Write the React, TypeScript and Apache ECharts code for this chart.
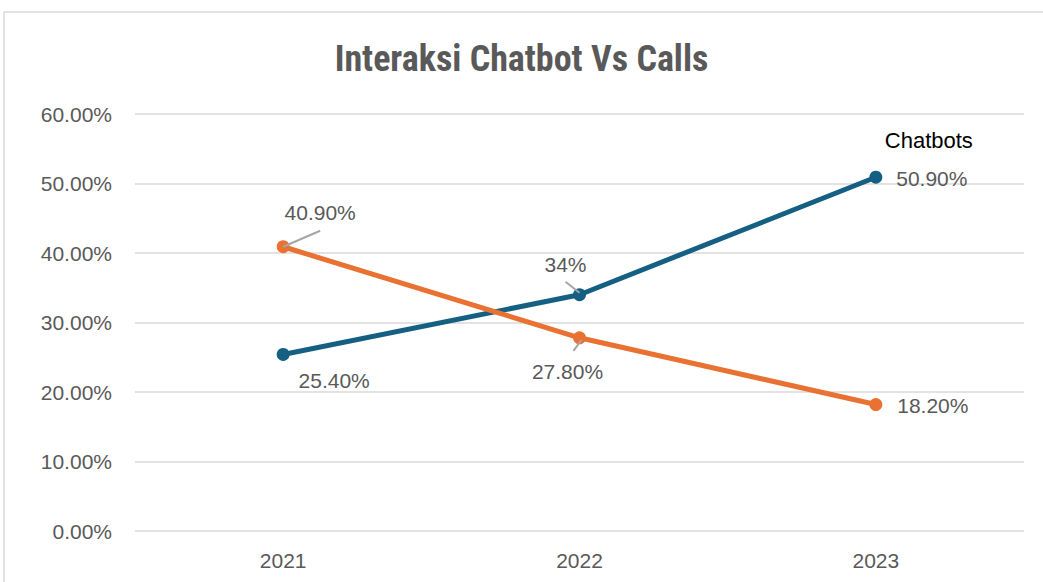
import React, { useEffect, useRef } from 'react';
import * as echarts from 'echarts';

const years = ['2021', '2022', '2023'];
const chatbotName = 'Chatbots';
const callsName = 'Calls';
const chatbots = [25.4, 34, 50.9];
const calls = [40.9, 27.8, 18.2];
const yMin = 0;
const yMax = 60;
const yStep = 10;
const titleText = 'Interaksi Chatbot Vs Calls';

const BLUE = '#156082';
const ORANGE = '#E97132';
const GREY = '#595959';
const FONT = '"Liberation Sans", Arial, sans-serif';
const FS = 21;

const fmt = (v: number) => (Number.isInteger(v) ? `${v}%` : `${v.toFixed(2)}%`);

// label offsets (style only)
const chatbotOffsets = [[51, 26], [-14, -30], [56, -18]];
const callsOffsets = [[37, -34], [-12, 34], [57, 1]];
// leader lines: [seriesIndex, dataIndex, from, to]
const leaders: [number, number, number[], number[]][] = [
  [1, 0, [0, 0], [37, -16]],
  [0, 1, [0, -2], [-14, -13]],
  [1, 1, [2, 2], [-6, 13]],
];

export default function App() {
  const ref = useRef<HTMLDivElement>(null);
  useEffect(() => {
    if (!ref.current) return;
    const chart = echarts.init(ref.current, null, { renderer: 'svg' });
    const labelBase = {
      show: true,
      position: 'inside',
      color: GREY,
      fontSize: FS,
      fontFamily: FONT,
      formatter: (p: any) => fmt(p.value),
    };
    chart.setOption({
      animation: false,
      backgroundColor: '#ffffff',
      title: {
        text: titleText,
        left: 'center',
        top: 36,
        textStyle: {
          color: GREY,
          fontSize: 36,
          fontWeight: 'bold',
          fontFamily: '"Liberation Sans Narrow", "Roboto Condensed", Arial, sans-serif',
        },
      },
      grid: { left: 135, right: 19, top: 114, bottom: 51 },
      xAxis: {
        type: 'category',
        data: years,
        boundaryGap: true,
        axisLine: { show: false },
        axisTick: { show: false },
        axisLabel: { color: GREY, fontSize: FS, fontFamily: FONT, margin: 19 },
      },
      yAxis: {
        type: 'value',
        min: yMin,
        max: yMax,
        interval: yStep,
        axisLine: { show: false },
        axisTick: { show: false },
        axisLabel: {
          color: GREY,
          fontSize: FS,
          fontFamily: FONT,
          margin: 23,
          formatter: (v: number) => `${v.toFixed(2)}%`,
        },
        splitLine: { lineStyle: { color: '#d9d9d9', width: 1.5 } },
      },
      series: [
        {
          name: chatbotName,
          type: 'line',
          symbol: 'circle',
          symbolSize: 13,
          lineStyle: { color: BLUE, width: 5 },
          itemStyle: { color: BLUE },
          data: chatbots.map((v, i) => {
            const item: any = {
              value: v,
              label: { ...labelBase, offset: chatbotOffsets[i] },
            };
            if (i === chatbots.length - 1) {
              item.label = {
                ...labelBase,
                offset: chatbotOffsets[i],
                formatter: (p: any) => `{n|${p.seriesName}}\n{v|${fmt(p.value)}}`,
                rich: {
                  n: { color: '#000000', fontSize: 22, fontFamily: FONT, lineHeight: 38, padding: [0, 6, 0, 0] },
                  v: { color: GREY, fontSize: FS, fontFamily: FONT, lineHeight: 38 },
                },
              };
            }
            return item;
          }),
        },
        {
          name: callsName,
          type: 'line',
          symbol: 'circle',
          symbolSize: 13,
          lineStyle: { color: ORANGE, width: 5 },
          itemStyle: { color: ORANGE },
          data: calls.map((v, i) => ({
            value: v,
            label: { ...labelBase, offset: callsOffsets[i] },
          })),
        },
      ],
    });

    const seriesData = [chatbots, calls];
    const lines = leaders.map(([s, d, from, to]) => {
      const pt = chart.convertToPixel({ seriesIndex: s }, [d, seriesData[s][d]]) as number[];
      return {
        type: 'line',
        shape: { x1: pt[0] + from[0], y1: pt[1] + from[1], x2: pt[0] + to[0], y2: pt[1] + to[1] },
        style: { stroke: '#a6a6a6', lineWidth: 2 },
        z: 10,
      };
    });
    chart.setOption({
      graphic: [
        {
          type: 'rect',
          shape: { x: 4, y: 12, width: 1100, height: 700 },
          style: { fill: 'none', stroke: '#d9d9d9', lineWidth: 1.5 },
          z: -1,
        },
        ...lines,
      ],
    });

    return () => chart.dispose();
  }, []);
  return (
    <div
      ref={ref}
      style={{ position: 'fixed', left: 0, top: 0, width: 1043, height: 582 }}
    />
  );
}
